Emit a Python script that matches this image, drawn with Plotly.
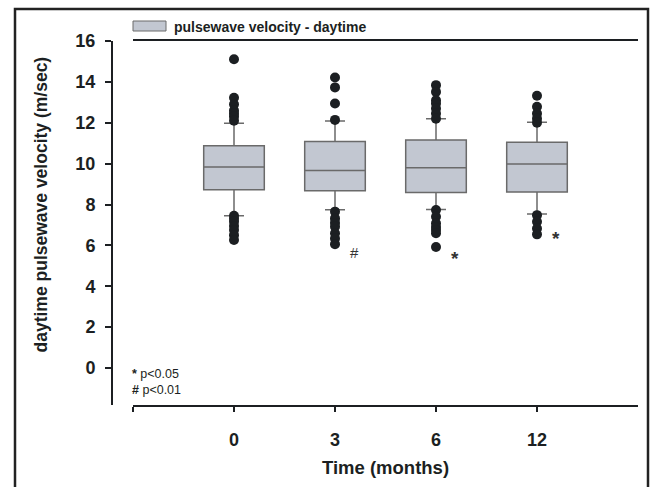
import plotly.graph_objects as go

# ---- data ----
categories = ["0", "3", "6", "12"]          # time (months)
q1 = [8.72, 8.67, 8.59, 8.61]
median = [9.83, 9.66, 9.80, 9.98]
q3 = [10.87, 11.08, 11.16, 11.04]
lower_whisker = [7.45, 7.74, 7.76, 7.53]
upper_whisker = [11.98, 12.08, 12.20, 12.03]

outliers_0 = [15.11, 13.22, 12.90, 12.60, 12.45, 12.30, 12.10, 7.45, 7.30, 7.16, 6.95, 6.75, 6.50, 6.26]
outliers_3 = [14.21, 13.73, 12.94, 12.14, 7.65, 7.32, 7.10, 6.91, 6.59, 6.34, 6.06]
outliers_6 = [13.84, 13.51, 13.10, 12.94, 12.70, 12.45, 12.20, 7.73, 7.40, 7.08, 6.90, 6.75, 6.59, 5.92]
outliers_12 = [13.32, 12.78, 12.45, 12.20, 12.00, 7.48, 7.16, 6.83, 6.54]
outliers = [outliers_0, outliers_3, outliers_6, outliers_12]

# significance markers (symbol, value position)
sig_symbols = ["", "#", "*", "*"]
sig_y = [None, 5.67, 5.35, 6.33]

y_ticks = [0, 2, 4, 6, 8, 10, 12, 14, 16]
legend_label = "pulsewave velocity - daytime"
y_title = "daytime pulsewave velocity (m/sec)"
x_title = "Time (months)"

FONT = "Arial, 'Liberation Sans', sans-serif"
INK = "#1c1f22"
BOX_FILL = "#c2c7d1"
BOX_LINE = "#6a6a6a"

xpos = [i + 1 for i in range(len(categories))]

fig = go.Figure()
fig.add_trace(go.Box(
    x=xpos, q1=q1, median=median, q3=q3,
    lowerfence=lower_whisker, upperfence=upper_whisker,
    width=0.6, whiskerwidth=0.33,
    fillcolor=BOX_FILL, line=dict(color=BOX_LINE, width=1.5),
    boxpoints=False, showlegend=False, hoverinfo="skip",
))

ox, oy = [], []
for p, vals in zip(xpos, outliers):
    ox += [p] * len(vals)
    oy += vals
fig.add_trace(go.Scatter(
    x=ox, y=oy, mode="markers",
    marker=dict(color=INK, size=10, line=dict(width=0)),
    showlegend=False, hoverinfo="skip",
))

W, H = 651, 487
ml, mr, mt, mb = 112, 13, 41, 82
pw = W - ml - mr
ph = H - mt - mb

def px_x(px):
    return (px - ml) / pw

def px_y(py):
    return (H - mb - py) / ph

annotations = []
for p, s, yv in zip(xpos, sig_symbols, sig_y):
    if s:
        size = 15 if s == "#" else 19
        annotations.append(dict(
            x=p + 0.19, y=yv, xref="x", yref="y", text="<b>" + s + "</b>" if s == "*" else s,
            showarrow=False,
            font=dict(family=FONT, size=size, color="#333"), xanchor="center", yanchor="middle"))

annotations += [
    dict(x=px_x(40), y=8, xref="paper", yref="y", text="<b>" + y_title + "</b>",
         textangle=-90, showarrow=False, xanchor="center", yanchor="middle",
         font=dict(family=FONT, size=17.5, color=INK)),
    dict(x=px_x(172), y=px_y(27), xref="paper", yref="paper", text="<b>" + legend_label + "</b>",
         showarrow=False, xanchor="left", yanchor="middle",
         font=dict(family=FONT, size=14, color=INK)),
    dict(x=px_x(130), y=px_y(374), xref="paper", yref="paper", text="<b>*</b> p&lt;0.05",
         showarrow=False, xanchor="left", yanchor="middle",
         font=dict(family=FONT, size=12.5, color=INK)),
    dict(x=px_x(130), y=px_y(390), xref="paper", yref="paper", text="<b>#</b> p&lt;0.01",
         showarrow=False, xanchor="left", yanchor="middle",
         font=dict(family=FONT, size=12.5, color=INK)),
]

shapes = [
    # legend swatch
    dict(type="rect", xref="paper", yref="paper",
         x0=px_x(133), x1=px_x(166), y0=px_y(31), y1=px_y(21),
         fillcolor=BOX_FILL, line=dict(color=BOX_LINE, width=1)),
    # outer frame
    dict(type="path", xref="paper", yref="paper",
         path=f"M {px_x(15)} {px_y(495)} L {px_x(15)} {px_y(9)} L {px_x(648)} {px_y(9)} L {px_x(648)} {px_y(495)}",
         line=dict(color="#222", width=2.5)),
]

fig.update_layout(
    width=W, height=H,
    margin=dict(l=ml, r=mr, t=mt, b=mb, pad=0),
    paper_bgcolor="white", plot_bgcolor="white",
    font=dict(family=FONT, color=INK),
    annotations=annotations, shapes=shapes,
    xaxis=dict(
        domain=[px_x(133), 1], range=[0, 5],
        tickmode="array", tickvals=[0] + xpos, ticktext=[""] + categories,
        ticks="outside", ticklen=5, tickwidth=1.5, tickcolor=INK,
        showline=True, linecolor=INK, linewidth=2, mirror=True,
        showgrid=False, zeroline=False,
        tickfont=dict(family=FONT, size=18, weight="bold", color=INK),
        ticklabelstandoff=12,
        title=dict(text=x_title, standoff=12,
                   font=dict(family=FONT, size=18.5, weight="bold", color=INK)),
    ),
    yaxis=dict(
        anchor="free", position=0, range=[-1.81, 16],
        tickmode="array", tickvals=y_ticks,
        ticks="outside", ticklen=6, tickwidth=1.5, tickcolor=INK,
        showline=True, linecolor=INK, linewidth=2,
        showgrid=False, zeroline=False,
        tickfont=dict(family=FONT, size=18, weight="bold", color=INK),
        ticklabelstandoff=6,
    ),
)

fig.write_html("out.html", config={"displayModeBar": False},
               post_script="document.body.style.margin='0';document.body.style.padding='0';")
